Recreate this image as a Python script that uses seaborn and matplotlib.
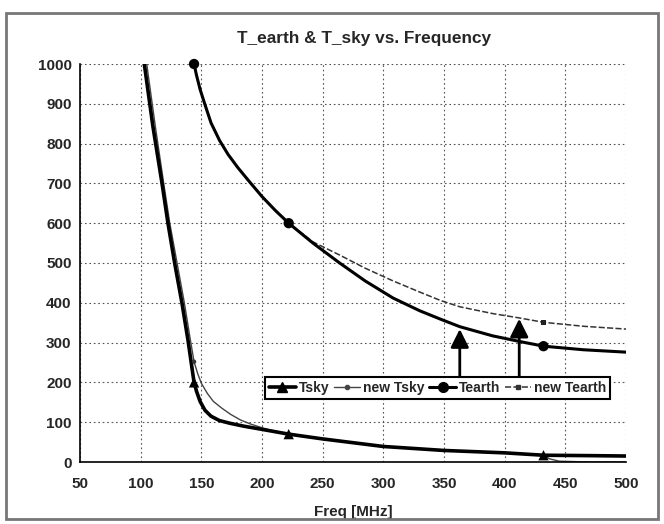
import matplotlib
matplotlib.use("Agg")
import matplotlib.pyplot as plt
from matplotlib.lines import Line2D
from matplotlib.patches import Rectangle
import seaborn as sns
import numpy as np

sns.set_style("white")
plt.rcParams.update({
    "font.family": ["Liberation Sans", "DejaVu Sans"],
    "font.size": 10,
    "font.weight": "bold",
})

# curve samples (MHz, K)
tsky_freq = [103, 110, 117.6, 122.5, 128, 134, 139, 144, 146, 149, 153, 158, 165, 174, 185, 200, 222, 250, 300, 350, 400, 432, 470, 500]
tsky_val = [1000, 845, 700, 600, 500, 400, 306, 200, 178, 152, 130, 115, 104, 97, 90, 82, 70, 58, 39, 29, 23, 17, 16, 15]

new_tsky_freq = [105, 112, 119, 124, 130, 136, 141, 144, 147, 150, 155, 160, 167, 174, 182, 190, 200, 210, 222, 250, 300, 350, 400, 432, 437, 445, 470, 500]
new_tsky_val = [1000, 845, 700, 600, 500, 400, 306, 252, 222, 198, 172, 152, 135, 120, 106, 96, 86, 78, 70, 58, 39, 29, 23, 17, 8, 2, 0, 0]

tearth_freq = [144, 146, 149, 153, 158, 165, 172, 180, 190, 200, 211, 222, 242, 264, 285, 308, 330, 347, 363, 390, 412, 432, 465, 500]
tearth_val = [1000, 972, 936, 898, 852, 808, 773, 740, 703, 667, 632, 600, 550, 500, 455, 412, 380, 359, 340, 317, 303, 291, 282, 276]

new_tearth_freq = [144, 146, 149, 153, 158, 165, 172, 180, 190, 200, 211, 222, 242, 264, 285, 308, 330, 347, 363, 390, 412, 432, 465, 500]
new_tearth_val = [1000, 972, 936, 898, 852, 808, 773, 740, 703, 667, 632, 600, 553, 520, 487, 455, 427, 406, 390, 373, 362, 351, 341, 334]

# marked points
mark_freq = [144, 222, 432]
tsky_mark = [200, 70, 17]
new_tsky_mark = [252, 70, 17]
tearth_mark = [1000, 600, 291]
new_tearth_mark = [1000, 600, 351]

# arrows: frequency, base, tip
arrow_freq = [363, 412]
arrow_base = [213, 213]
arrow_tip = [334, 360]

xticks = np.arange(50, 501, 50)
yticks = np.arange(0, 1001, 100)

fig = plt.figure(figsize=(6.64, 5.24), dpi=100)
ax = fig.add_axes([80 / 664, 1 - 462 / 524, 546 / 664, 398 / 524])

fig.patches.append(Rectangle((6 / 664, 1 - 519 / 524), 652 / 664, 506 / 524,
                             transform=fig.transFigure, fill=False,
                             edgecolor="#777777", linewidth=2))

sns.lineplot(x=new_tsky_freq, y=new_tsky_val, ax=ax, color="#444444", linewidth=1.0, sort=False)
sns.lineplot(x=tsky_freq, y=tsky_val, ax=ax, color="black", linewidth=2.6, sort=False)
sns.lineplot(x=new_tearth_freq, y=new_tearth_val, ax=ax, color="#333333", linewidth=1.1,
             linestyle=(0, (4, 1.5)), sort=False)
sns.lineplot(x=tearth_freq, y=tearth_val, ax=ax, color="black", linewidth=2.2, sort=False)

sns.scatterplot(x=mark_freq, y=new_tsky_mark, ax=ax, marker="o", s=10, color="#333333",
                edgecolor="none", clip_on=False, zorder=5)
sns.scatterplot(x=mark_freq, y=tsky_mark, ax=ax, marker="^", s=55, color="black",
                edgecolor="none", clip_on=False, zorder=6)
sns.scatterplot(x=mark_freq, y=new_tearth_mark, ax=ax, marker="s", s=16, color="#222222",
                edgecolor="none", clip_on=False, zorder=5)
sns.scatterplot(x=mark_freq, y=tearth_mark, ax=ax, marker="o", s=55, color="black",
                edgecolor="none", clip_on=False, zorder=6)

for f, b, t in zip(arrow_freq, arrow_base, arrow_tip):
    ax.annotate("", xy=(f, t), xytext=(f, b),
                arrowprops=dict(arrowstyle="-|>,head_length=1.1,head_width=0.55",
                                mutation_scale=10, color="black", lw=2,
                                shrinkA=0, shrinkB=0), zorder=7)

ax.set_xlim(50, 500)
ax.set_ylim(0, 1000)
ax.set_xticks(xticks)
ax.set_yticks(yticks)
ax.grid(True, color="#555555", linestyle=(0, (1.5, 2.5)), linewidth=0.8)
for side in ["top", "right"]:
    ax.spines[side].set_visible(False)
for side in ["left", "bottom"]:
    ax.spines[side].set_color("black")
    ax.spines[side].set_linewidth(1.2)
ax.tick_params(direction="out", length=4, width=1, color="black", labelsize=11, pad=2)
ax.tick_params(axis="x", pad=7)
ax.set_xlabel("Freq [MHz]", fontsize=11, fontweight="bold", labelpad=10)
ax.set_ylabel("")

fig.text(364 / 664, 1 - 38 / 524, "T_earth & T_sky vs. Frequency", ha="center", va="center",
         fontsize=12.4, fontweight="bold")

handles = [
    Line2D([], [], color="black", lw=2.6, marker="^", markersize=7),
    Line2D([], [], color="#444444", lw=1.0, marker="o", markersize=3),
    Line2D([], [], color="black", lw=2.2, marker="o", markersize=7),
    Line2D([], [], color="#333333", lw=1.1, linestyle=(0, (4, 1.5)), marker="s", markersize=3.5),
]
labels = ["Tsky", "new Tsky", "Tearth", "new Tearth"]
leg = ax.legend(handles, labels, loc="upper left", bbox_to_anchor=(0.339, 0.2136), ncol=4,
                handlelength=1.9, handletextpad=0.2, columnspacing=0.35, borderpad=0.3,
                borderaxespad=0, fancybox=False, framealpha=1, edgecolor="black", fontsize=10)
leg.get_frame().set_linewidth(1.5)
leg.set_zorder(8)

fig.savefig("out.png", dpi=100)
